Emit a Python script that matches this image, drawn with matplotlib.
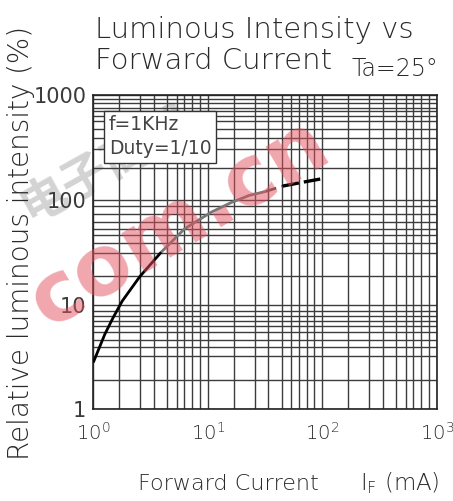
import numpy as np
import matplotlib
matplotlib.use("Agg")
import matplotlib.pyplot as plt
from matplotlib.ticker import FixedLocator, NullFormatter

# ---- data ----
if_ma = [1.0, 1.26, 1.49, 1.79, 2.55, 3.93, 6.27, 10.7, 16.0, 23.0, 32.0, 45.0, 63.0, 100.0]
iv_pct = [2.8, 5.2, 7.5, 10.8, 18.5, 31.7, 52.8, 76.0, 94.0, 110.0, 120.0, 135.0, 145.0, 159.0]
x_tick_vals = [1, 10, 100, 1000]
x_tick_labels = [r"$\mathregular{10^{0}}$", r"$\mathregular{10^{1}}$",
                 r"$\mathregular{10^{2}}$", r"$\mathregular{10^{3}}$"]
y_tick_vals = [1, 10, 100, 1000]
y_tick_labels = ["1", "10", "100", "1000"]
title_line1 = "Luminous Intensity vs"
title_line2 = "Forward Current"
temp_text = "Ta=25°"
cond_text = "f=1KHz\nDuty=1/10"
xlabel_text = "Forward Current"
unit_text = r"I$_{\mathregular{F}}$ (mA)"
ylabel_text = "Relative luminous intensity (%)"

# hand-drawn grid: fractional positions inside each decade
x_minor_frac = [0.225, 0.41, 0.53, 0.645, 0.73, 0.795, 0.865, 0.93]
y_minor_frac = [[0.283, 0.512, 0.59, 0.66, 0.739, 0.795, 0.842, 0.887, 0.943],
                [0.27, 0.49, 0.59, 0.66, 0.725, 0.79, 0.865, 0.94],
                [0.30, 0.48, 0.593, 0.673, 0.75, 0.80, 0.845, 0.877, 0.92, 0.96]]

fam = ["DejaVu Sans"]
narrow = ["Liberation Sans Narrow", "DejaVu Sans"]
ink = "#2a2a2a"

fig = plt.figure(figsize=(4.53, 5.01), dpi=100)
ax = fig.add_axes([93.3 / 453, 1 - 409.3 / 501, (436.7 - 93.3) / 453, (409.3 - 95) / 501])
ax.set_xscale("log")
ax.set_yscale("log")
ax.set_xlim(1, 1000)
ax.set_ylim(1, 1000)

x_minor = [10 ** (d + f) for d in range(3) for f in x_minor_frac]
y_minor = [10 ** (d + f) for d in range(3) for f in y_minor_frac[d]]
ax.xaxis.set_major_locator(FixedLocator(x_tick_vals))
ax.yaxis.set_major_locator(FixedLocator(y_tick_vals))
ax.xaxis.set_minor_locator(FixedLocator(x_minor))
ax.yaxis.set_minor_locator(FixedLocator(y_minor))
ax.xaxis.set_minor_formatter(NullFormatter())
ax.yaxis.set_minor_formatter(NullFormatter())
ax.grid(True, which="both", color="#3c3c3c", linewidth=1.0, zorder=1)
ax.tick_params(which="both", length=0)
ax.set_xticks(x_tick_vals)
ax.set_xticklabels(x_tick_labels, fontsize=14, family=fam, fontweight="light", color=ink)
ax.set_yticks(y_tick_vals)
ax.set_yticklabels(y_tick_labels, fontsize=15, family=narrow, color="#3a3a3a")
ax.tick_params(axis="x", pad=9)
ax.tick_params(axis="y", pad=5)
for s in ax.spines.values():
    s.set_linewidth(1.2)
    s.set_color("#222222")
ax.set_facecolor("none")
ax.set_zorder(2)

# watermark
fig.text(0.395, 0.555, "com.cn", color="#e2505e", alpha=0.5, fontsize=60,
         fontweight="bold", rotation=31, ha="center", va="center",
         family=fam, zorder=3)
fig.text(0.235, 0.672, "电子商城", color="#808080", alpha=0.35, fontsize=34,
         fontweight="bold", rotation=29, ha="center", va="center",
         family=["Noto Sans CJK SC", "DejaVu Sans"], zorder=0)

# curve
ax.plot(if_ma[:6], iv_pct[:6], color="black", linewidth=2.0, zorder=4, solid_capstyle="butt")
ax.plot(if_ma[5:11], iv_pct[5:11], color="#777777", linewidth=2.0, zorder=4, solid_capstyle="butt")
ax.plot(if_ma[10:12], iv_pct[10:12], color="#555555", linewidth=2.0, zorder=4,
        linestyle=(0, (4, 2)))
ax.plot(if_ma[11:], iv_pct[11:], color="black", linewidth=2.4, zorder=4,
        linestyle=(0, (5, 1.5)))

# condition box
ax.text(0.045, 0.935, cond_text, transform=ax.transAxes, fontsize=13.5, family=narrow,
        ha="left", va="top", linespacing=1.3, zorder=5, color="#444444",
        bbox=dict(boxstyle="square,pad=0.25", facecolor="white", edgecolor="#333333",
                  linewidth=1.0))

# titles and labels
fig.text(95 / 453, 1 - 38 / 501, title_line1, fontsize=21, family=fam, fontweight="light",
         ha="left", va="baseline", color=ink)
fig.text(95 / 453, 1 - 69 / 501, title_line2, fontsize=21, family=fam, fontweight="light",
         ha="left", va="baseline", color=ink)
fig.text(352 / 453, 1 - 76 / 501, temp_text, fontsize=17, family=fam, fontweight="light",
         ha="left", va="baseline", color=ink)
fig.text(138 / 453, 1 - 490 / 501, xlabel_text, fontsize=16, family=fam, fontweight="light",
         ha="left", va="baseline", color=ink)
fig.text(360 / 453, 1 - 490 / 501, unit_text, fontsize=16.5, family=fam, fontweight="light",
         ha="left", va="baseline", color=ink)
fig.text(21 / 453, 1 - 243 / 501, ylabel_text, fontsize=20, family=fam, fontweight="light",
         ha="center", va="center", rotation=90, color=ink)

fig.savefig("out.png", dpi=100)
